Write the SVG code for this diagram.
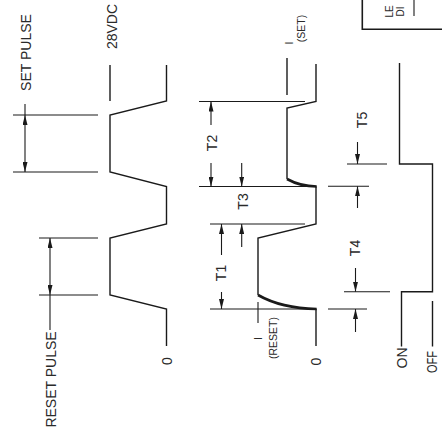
<svg xmlns="http://www.w3.org/2000/svg" width="442" height="433" viewBox="0 0 442 433">
<defs>
<style>
.w{fill:none;stroke:#1a1a1a;stroke-width:1.4;stroke-linejoin:miter}
.c{fill:none;stroke:#1a1a1a;stroke-width:2.6;stroke-linecap:butt}
.d{fill:none;stroke:#1a1a1a;stroke-width:1.1}
.a{fill:none;stroke:#1a1a1a;stroke-width:1.1;marker-end:url(#ah)}
text{font-family:"Liberation Sans",Arial,sans-serif;fill:#2a2a2a}
.L{font-size:14px}
.S{font-size:10.5px}
.B{font-size:10px}
</style>
<marker id="ah" viewBox="0 0 10 5" refX="10" refY="2.5" markerWidth="10" markerHeight="5" markerUnits="userSpaceOnUse" orient="auto"><path d="M0,0 L10,2.5 L0,5 z" fill="#1a1a1a"/></marker>
</defs>
<rect width="442" height="433" fill="#fff"/>

<g id="voltage">
<line class="w" x1="110" y1="65" x2="110" y2="101"/>
<polyline class="w" points="166.5,65 166.5,101 110,115 110,172 166.5,186.5 166.5,224 110,238 110,295 166.5,309 166.5,346"/>
<text class="L" text-anchor="middle" transform="translate(116.5,26.5) rotate(-90)">28VDC</text>
<text class="L" text-anchor="middle" transform="translate(171.5,361) rotate(-90)">0</text>
</g>

<g id="set-pulse">
<line class="d" x1="13" y1="115" x2="98" y2="115"/>
<line class="d" x1="13" y1="172" x2="98" y2="172"/>
<line class="d" x1="25" y1="104" x2="25" y2="115"/>
<line class="a" x1="25" y1="143" x2="25" y2="115"/>
<line class="a" x1="25" y1="143" x2="25" y2="172"/>
<text class="L" text-anchor="middle" transform="translate(30.5,52.5) rotate(-90)">SET PULSE</text>
</g>

<g id="reset-pulse">
<line class="d" x1="39" y1="238" x2="98" y2="238"/>
<line class="d" x1="39" y1="295" x2="98" y2="295"/>
<line class="a" x1="50" y1="266" x2="50" y2="238"/>
<line class="a" x1="50" y1="266" x2="50" y2="295"/>
<line class="d" x1="50" y1="295" x2="50" y2="330"/>
<text class="L" text-anchor="middle" transform="translate(56,379.5) rotate(-90)">RESET PULSE</text>
</g>

<g id="current">
<line class="w" x1="287" y1="58" x2="287" y2="95"/>
<polyline class="w" points="316,64 316,101.5 287,108 287,179"/>
<path class="c" d="M287,179 C295,183.5 303,186.3 316.7,186.5"/>
<polyline class="w" points="316,186.5 316,224 258,238 258,295"/>
<path class="c" d="M258,295 C272,303 290,308.5 316.7,309"/>
<line class="w" x1="316" y1="309" x2="316" y2="346"/>
<line class="d" x1="258" y1="302" x2="258" y2="323"/>
<text class="S" text-anchor="middle" transform="translate(292.5,43) rotate(-90)">I</text>
<text class="S" text-anchor="middle" transform="translate(305.2,28.5) rotate(-90)">(SET)</text>
<text class="S" text-anchor="middle" transform="translate(262,338.5) rotate(-90)">I</text>
<text class="S" text-anchor="middle" transform="translate(276.7,338) rotate(-90)">(RESET)</text>
<text class="L" text-anchor="middle" transform="translate(321,361.5) rotate(-90)">0</text>
</g>

<g id="t1-t3">
<line class="d" x1="199" y1="101.5" x2="305" y2="101.5"/>
<line class="d" x1="199" y1="186.5" x2="316" y2="186.5"/>
<line class="d" x1="210" y1="224" x2="305" y2="224"/>
<line class="d" x1="210" y1="309" x2="316" y2="309"/>
<line class="a" x1="211" y1="125" x2="211" y2="101.5"/>
<line class="a" x1="211" y1="163" x2="211" y2="186.5"/>
<text class="L" text-anchor="middle" transform="translate(217,143) rotate(-90)">T2</text>
<line class="a" x1="241.7" y1="163" x2="241.7" y2="186.5"/>
<line class="a" x1="241.7" y1="247" x2="241.7" y2="224"/>
<text class="L" text-anchor="middle" transform="translate(248,201.5) rotate(-90)">T3</text>
<line class="a" x1="221.5" y1="255" x2="221.5" y2="224"/>
<line class="a" x1="221.5" y1="292" x2="221.5" y2="309"/>
<text class="L" text-anchor="middle" transform="translate(226,273) rotate(-90)">T1</text>
</g>

<g id="t4-t5">
<line class="d" x1="347" y1="164" x2="387" y2="164"/>
<line class="d" x1="328" y1="186.3" x2="369" y2="186.3"/>
<line class="a" x1="357.5" y1="142" x2="357.5" y2="164"/>
<line class="a" x1="357.5" y1="208" x2="357.5" y2="186.3"/>
<text class="L" text-anchor="middle" transform="translate(367,120) rotate(-90)">T5</text>
<line class="d" x1="344" y1="291.7" x2="390" y2="291.7"/>
<line class="d" x1="328" y1="309" x2="367" y2="309"/>
<line class="a" x1="355.5" y1="268" x2="355.5" y2="291.7"/>
<line class="a" x1="355.5" y1="332" x2="355.5" y2="309"/>
<text class="L" text-anchor="middle" transform="translate(360,248) rotate(-90)">T4</text>
</g>

<g id="switch">
<polyline class="w" points="399.5,63 399.5,164 432.5,164 432.5,291.7 401.5,291.7 401.5,346.5"/>
<line class="w" x1="432.5" y1="301" x2="432.5" y2="346.5"/>
<text class="L" text-anchor="middle" transform="translate(407,358) rotate(-90)">ON</text>
<text class="L" text-anchor="middle" textLength="22" lengthAdjust="spacingAndGlyphs" transform="translate(437,362) rotate(-90)">OFF</text>
</g>

<g id="legend-box">
<polyline class="w" points="362.3,0 362.3,29.3 442,29.3" style="stroke-width:1.6"/>
<line class="d" x1="414" y1="0" x2="414" y2="16"/>
<text class="B" transform="translate(393,17.5) rotate(-90)">LE</text>
<text class="B" transform="translate(403.5,16.5) rotate(-90)">DI</text>
</g>
</svg>
